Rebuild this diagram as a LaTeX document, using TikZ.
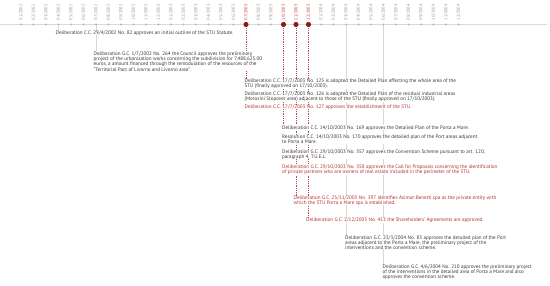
\documentclass[tikz,border=0pt]{standalone}
\usepackage{fontspec}
\setmainfont{PT Sans}
\usetikzlibrary{backgrounds}
\definecolor{txt}{HTML}{3A3A3A}
\definecolor{redtxt}{HTML}{B3322E}
\definecolor{reddot}{HTML}{8E1A1A}
\definecolor{lblgray}{HTML}{9A9A9A}
\definecolor{lblred}{HTML}{C04545}
\definecolor{axisgray}{HTML}{DADADA}
\definecolor{linkgray}{HTML}{D8D8D8}
\begin{document}
\begin{tikzpicture}[x=1pt,y=-1pt,
  evt/.style={anchor=north west,inner sep=0pt,fill=white,align=left,text=txt,
    font=\fontsize{5.1}{4.95}\selectfont},
  redevt/.style={evt,text=redtxt},
  mlabel/.style={rotate=90,anchor=west,inner sep=0pt,text=lblgray,
    font=\fontsize{4.4}{5}\selectfont},
  redlabel/.style={mlabel,text=lblred},
  graydot/.style={circle,fill=black!28,inner sep=0pt,minimum size=2.4pt},
  reddotst/.style={circle,fill=reddot,inner sep=0pt,minimum size=5.2pt},
  graylink/.style={draw=linkgray,line width=0.5pt},
  redlink/.style={draw=lblred,line width=0.45pt,dash pattern=on 0.9pt off 0.9pt}]
\useasboundingbox (0,0) rectangle (550,286);
% axis
\draw[axisgray,line width=0.6pt] (0,24.5) coordinate (axl) -- (547,24.5) coordinate (axr);
% months
\foreach \lab [count=\i from 0] in {01/2002,02/2002,03/2002,04/2002,05/2002,06/2002,07/2002,08/2002,09/2002,10/2002,11/2002,12/2002,01/2003,02/2003,03/2003,04/2003,05/2003,06/2003,07/2003,08/2003,09/2003,10/2003,11/2003,12/2003,01/2004,02/2004,03/2004,04/2004,05/2004,06/2004,07/2004,08/2004,09/2004,10/2004,11/2004,12/2004}{
  \coordinate (m\i) at ({21+12.5*\i},24.5);
  \ifnum\i=18 \node[redlabel] (l\i) at ({21+12.5*\i},20.5) {\lab};
  \else\ifnum\i=21 \node[redlabel] (l\i) at ({21+12.5*\i},20.5) {\lab};
  \else\ifnum\i=22 \node[redlabel] (l\i) at ({21+12.5*\i},20.5) {\lab};
  \else\ifnum\i=23 \node[redlabel] (l\i) at ({21+12.5*\i},20.5) {\lab};
  \else \node[mlabel] (l\i) at ({21+12.5*\i},20.5) {\lab};
  \fi\fi\fi\fi
}
% events
\node[evt] (t1) at (55.5,30.6) {Deliberation C.C. 29/4/2002 No. 82 approves an initial outline of the STU Statute.};
\node[evt] (t2) at (93.5,51.3) {Deliberation G.C. 1/7/2002 No. 264 the Council approves the preliminary\\project of the urbanization works concerning the subdivision for 7,488,625.00\\euros, a amount financed through the remodulation of the resources of the\\“Territorial Pact of Livorno and Livorno area”.};
\node[evt] (t3) at (244.5,78.8) {Deliberation C.C. 17/7/2003 No. 125 is adopted the Detailed Plan affecting the whole area of the\\STU (finally approved on 17/10/2003).};
\node[evt] (t4) at (244.5,91.6) {Deliberation C.C. 17/7/2003 No. 126 is adopted the Detailed Plan of the residual industrial areas\\(Morosini Stopover area) adjacent to those of the STU (finally approved on 17/10/2003).};
\node[redevt] (t5) at (244.5,104.6) {Deliberation C.C. 17/7/2003 No. 127 approves the establishment of the STU.};
\node[evt] (t6) at (282,125.3) {Deliberation C.C. 14/10/2003 No. 169 approves the Detailed Plan of the Porta a Mare.};
\node[evt] (t7) at (282,135) {Resolution C.C. 14/10/2003 No. 170 approves the detailed plan of the Port areas adjacent\\to Porta a Mare.};
\node[evt] (t8) at (282,149.6) {Deliberation G.C. 29/10/2003 No. 357 approves the Convention Scheme pursuant to art. 120,\\paragraph 4, T.U.E.L.};
\node[redevt] (t9) at (282,165) {Deliberation G.C. 29/10/2003 No. 358 approves the Call for Proposals concerning the identification\\of private partners who are owners of real estate included in the perimeter of the STU.};
\node[redevt] (t10) at (293.5,195.6) {Deliberation G.C. 25/11/2003 No. 397 identifies Azimut-Benetti spa as the private entity with\\which the STU Porta a Mare spa is established.};
\node[redevt] (t11) at (306,218) {Deliberation G.C. 2/12/2003 No. 413 the Shareholders’ Agreements are approved.};
\node[evt] (t12) at (345,235.6) {Deliberation G.C. 23/3/2004 No. 83 approves the detailed plan of the Port\\areas adjacent to the Porta a Mare, the preliminary project of the\\interventions and the convention scheme.};
\node[evt] (t13) at (382.5,265) {Deliberation G.C. 4/6/2004 No. 210 approves the preliminary project\\of the interventions in the detailed area of Porta a Mare and also\\approves the convention scheme.};
% connectors
\begin{scope}[on background layer]
  \draw[graylink] (m3) -- (m3 |- t1.north);
  \draw[graylink] (m6) -- (m6 |- t2.north);
  \draw[graylink] (m26) -- (m26 |- t12.north);
  \draw[graylink] (m29) -- (m29 |- t13.north);
  \draw[redlink] (m18) -- (m18 |- t3.north);
  \draw[redlink] (m21) -- (m21 |- t6.north);
  \draw[redlink] (m22) -- (m22 |- t10.north);
  \draw[redlink] (m23) -- (m23 |- t11.north);
\end{scope}
% dots
\foreach \i in {0,...,35}{
  \ifnum\i=18 \node[reddotst] (d\i) at (m\i) {};
  \else\ifnum\i=21 \node[reddotst] (d\i) at (m\i) {};
  \else\ifnum\i=22 \node[reddotst] (d\i) at (m\i) {};
  \else\ifnum\i=23 \node[reddotst] (d\i) at (m\i) {};
  \else \node[graydot] (d\i) at (m\i) {};
  \fi\fi\fi\fi
}
\end{tikzpicture}
\end{document}
